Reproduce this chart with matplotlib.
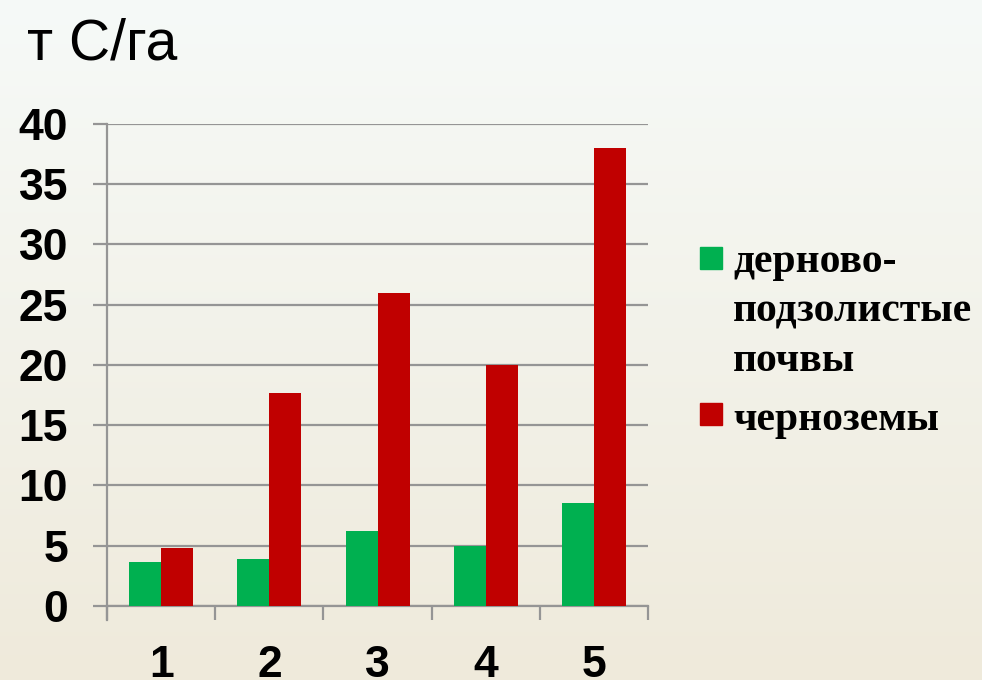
import numpy as np
from matplotlib import pyplot as plt
from matplotlib.patches import Rectangle

groups = ["1", "2", "3", "4", "5"]
sod_podzolic = [3.6, 3.85, 6.2, 5.0, 8.5]
chernozem = [4.8, 17.7, 26.0, 20.0, 38.0]
sod_label_lines = ["дерново-", "подзолистые", "почвы"]
chernozem_label = "черноземы"
y_ticks = [0, 5, 10, 15, 20, 25, 30, 35, 40]

GREEN = "#00b050"
RED = "#c00000"
GRID = "#959595"


def main():
    fig = plt.figure(figsize=(9.82, 6.8), dpi=100)

    # soft slide background: pale mint at top fading to cream at the bottom
    bg = fig.add_axes([0, 0, 1, 1], zorder=-10)
    top = np.array([246, 250, 248]) / 255
    bottom = np.array([239, 234, 219]) / 255
    t = np.linspace(0, 1, 256)[:, None]
    grad = top * (1 - t[..., None]) + bottom * t[..., None]
    grad = np.repeat(grad, 4, axis=1)
    bg.imshow(grad, aspect="auto", extent=[0, 1, 0, 1], interpolation="bicubic")
    bg.axis("off")

    ax = fig.add_axes([0.109, 0.109, 0.551, 0.709])
    ax.patch.set_alpha(0)

    x = np.arange(1, len(groups) + 1)
    w = 0.295
    ax.bar(x - w / 2, sod_podzolic, w, color=GREEN, zorder=3)
    ax.bar(x + w / 2, chernozem, w, color=RED, zorder=3)

    ax.set_xlim(0.5, len(groups) + 0.5)
    ax.set_ylim(0, 40)
    ax.set_yticks(y_ticks)
    ax.set_yticklabels([str(v) for v in y_ticks], fontsize=32, weight="bold",
                       family="Liberation Sans")
    ax.set_xticks(x)
    ax.set_xticklabels(groups, fontsize=32, weight="bold", family="Liberation Sans")
    ax.set_xticks(np.arange(0.5, len(groups) + 1), minor=True)

    ax.yaxis.grid(True, color=GRID, linewidth=1.6, zorder=0)
    ax.tick_params(axis="y", length=10, width=1.6, color=GRID, pad=18)
    ax.tick_params(axis="x", which="major", length=0, pad=28)
    ax.tick_params(axis="x", which="minor", length=10, width=1.6, color=GRID)

    for side in ["top", "right"]:
        ax.spines[side].set_visible(False)
    for side in ["left", "bottom"]:
        ax.spines[side].set_color(GRID)
        ax.spines[side].set_linewidth(1.6)
    ax.spines["left"].set_bounds(-1.2, 40)

    fig.text(0.028, 0.913, "т С/га", fontsize=41, family="Liberation Sans",
             ha="left", va="baseline")

    # legend drawn by hand so the swatch sits on the first text line
    fig.patches.append(Rectangle((700 / 982, 1 - 269 / 680), 22 / 982, 22 / 680,
                                 transform=fig.transFigure, color=GREEN))
    fig.patches.append(Rectangle((700 / 982, 1 - 425 / 680), 22 / 982, 22 / 680,
                                 transform=fig.transFigure, color=RED))
    for i, line in enumerate(sod_label_lines):
        fig.text(733 / 982, 1 - (272 + 49.5 * i) / 680, line, fontsize=30,
                 family="Liberation Serif", weight="bold", ha="left", va="baseline")
    fig.text(733 / 982, 1 - 430 / 680, chernozem_label, fontsize=30,
             family="Liberation Serif", weight="bold", ha="left", va="baseline")

    plt.savefig("out.png", dpi=100)


if __name__ == "__main__":
    main()
